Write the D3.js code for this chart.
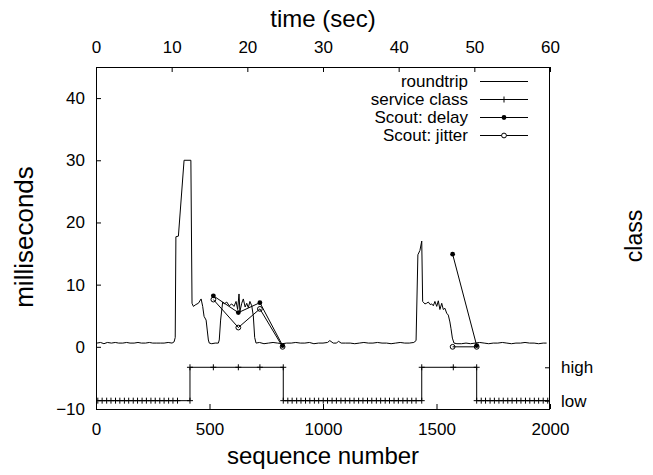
<!DOCTYPE html>
<html>
<head>
<meta charset="utf-8">
<script src="https://cdn.jsdelivr.net/npm/d3@7"></script>
<style>
  html, body { margin: 0; padding: 0; background: #fff; }
  svg { display: block; }
</style>
</head>
<body>
<svg id="chart" width="653" height="475"></svg>
<script>
// ─── Data ────────────────────────────────────────────────────────────────────

// roundtrip time (ms) against packet sequence number
const roundtripSeq = [
  4, 20, 35, 50, 68, 85, 100, 118, 135, 150, 168, 185, 200, 218, 235, 250, 268, 285, 300, 318, 335, 344,
  349, 352, 363, 388, 418, 423, 429, 440, 451, 463, 470, 476, 485, 490, 495, 499, 510, 525, 539,
  543, 549, 558, 565, 576, 587, 598, 608, 617, 624, 630, 634, 642, 649, 657, 664, 671, 678, 686,
  693, 699, 705, 720, 740, 760, 780, 800, 820, 840, 860, 880, 900, 920, 940, 960, 980, 1000,
  1020, 1030, 1045, 1060, 1068, 1080, 1100, 1120, 1140, 1160, 1180, 1200, 1220, 1240, 1260, 1280,
  1300, 1320, 1340, 1360, 1380, 1400, 1410, 1418, 1427, 1435, 1439, 1449, 1456, 1464, 1472, 1479,
  1486, 1493, 1501, 1508, 1515, 1523, 1530, 1537, 1545, 1552, 1559, 1564, 1570, 1577, 1590, 1610,
  1630, 1650, 1670, 1690, 1710, 1730, 1750, 1770, 1790, 1810, 1830, 1850, 1870, 1890, 1910, 1930,
  1950, 1970, 1985
];
const roundtripMs = [
  0.6, 0.7, 0.5, 0.7, 0.6, 0.7, 0.6, 0.6, 0.7, 0.6, 0.6, 0.7, 0.6, 0.6, 0.7, 0.6, 0.6, 0.6, 0.6, 0.7, 0.6, 0.8,
  1.5, 17.7, 17.8, 30, 30, 7.0, 6.5, 6.8, 7.0, 7.7, 6.5, 4.9, 4.3, 2.7, 1.1, 0.6, 0.5, 0.6, 0.6,
  1.1, 4.3, 7.2, 6.9, 7.2, 6.6, 6.9, 6.5, 7.3, 6.0, 8.5, 5.7, 7.0, 7.7, 6.4, 7.0, 6.3, 7.3, 6.6,
  5.0, 1.5, 0.6, 0.7, 0.5, 0.6, 0.7, 0.6, 0.5, 0.6, 0.6, 0.7, 0.6, 0.6, 0.7, 0.5, 0.6, 0.6,
  0.7, 1.0, 0.6, 0.6, 0.9, 0.6, 0.6, 0.6, 0.5, 0.6, 0.7, 0.6, 0.6, 0.7, 0.6, 0.6,
  0.5, 0.6, 0.7, 0.6, 0.6, 0.7, 1.0, 14.8, 15.5, 17.0, 7.3, 6.9, 7.0, 7.2, 6.8, 6.9,
  6.6, 7.3, 6.5, 7.4, 6.0, 7.0, 6.0, 6.2, 5.4, 5.1, 4.0, 2.9, 1.4, 0.6, 0.5, 0.5,
  0.6, 0.5, 0.6, 0.7, 0.6, 0.5, 0.6, 0.6, 0.7, 0.6, 0.5, 0.6, 0.6, 0.7, 0.6, 0.6,
  0.5, 0.6, 0.6
];

// service class samples (0 = low, 1 = high), drawn as steps
const classLowSeqA  = [8, 27, 47, 66, 86, 105, 125, 144, 164, 183, 203, 222, 242, 261, 281, 300, 320, 339, 359, 414];
const classHighSeqA = [414, 517, 627, 722, 825];
const classLowSeqB  = [825, 845, 864, 884, 903, 923, 942, 962, 981, 1001, 1020, 1040, 1059, 1079, 1098, 1118,
                       1137, 1157, 1176, 1196, 1215, 1235, 1254, 1274, 1293, 1313, 1332, 1352, 1371, 1391, 1410, 1435];
const classHighSeqB = [1435, 1574, 1677];
const classLowSeqC  = [1677, 1697, 1716, 1736, 1755, 1775, 1794, 1814, 1833, 1853, 1872, 1892, 1911, 1931, 1950, 1970, 1990];
const classTicks    = [0, 1];
const classLabels   = ['low', 'high'];

// Scout probe measurements, two separate runs
const scoutSeqA    = [517, 627, 722, 822];
const scoutDelayA  = [8.2, 5.5, 7.1, 0.2];
const scoutJitterA = [7.6, 3.1, 6.1, 0.0];
const scoutSeqB    = [1571, 1677];
const scoutDelayB  = [14.9, 0.2];
const scoutJitterB = [0.0, 0.0];

const seqTicks  = [0, 500, 1000, 1500, 2000];
const timeTicks = [0, 10, 20, 30, 40, 50, 60];
const msTicks   = [-10, 0, 10, 20, 30, 40];

const legendNames = ['roundtrip', 'service class', 'Scout: delay', 'Scout: jitter'];

// ─── Layout ──────────────────────────────────────────────────────────────────

const FONT = '"Liberation Sans", Arial, Helvetica, sans-serif';
const L = 96, R = 550, T = 67, B = 409;

const svg = d3.select('#chart');

const x     = d3.scaleLinear().domain([0, 2000]).range([L, R]);
const xTime = d3.scaleLinear().domain([0, 60]).range([L, R]);
const y     = d3.scaleLinear().domain([-10, 45]).range([B, T]);
const y2    = d3.scaleLinear().domain([-0.25, 10]).range([B, T]);

const zip = (xs, ys) => xs.map((s, i) => ({ seq: s, v: ys[i] }));
const plain = d3.format('d');

svg.append('defs').append('clipPath').attr('id', 'plot-clip')
  .append('rect').attr('x', L).attr('y', T).attr('width', R - L).attr('height', B - T);

// ─── Axes ────────────────────────────────────────────────────────────────────

function styleAxis(sel) {
  sel.select('.domain').remove();
  sel.selectAll('line').attr('stroke', '#000');
  sel.selectAll('text').attr('fill', '#000');
  sel.attr('font-family', FONT).attr('font-size', 17);
}

svg.append('g')
  .attr('transform', `translate(${L},0)`)
  .call(d3.axisLeft(y).tickValues(msTicks).tickSize(-5).tickPadding(11).tickFormat(plain))
  .call(styleAxis);

svg.append('g')
  .attr('transform', `translate(0,${B})`)
  .call(d3.axisBottom(x).tickValues(seqTicks).tickSize(-5).tickPadding(14).tickFormat(plain))
  .call(styleAxis);

svg.append('g')
  .attr('transform', `translate(0,${T})`)
  .call(d3.axisTop(xTime).tickValues(timeTicks).tickSize(-5).tickPadding(14).tickFormat(plain))
  .call(styleAxis);

svg.append('g')
  .attr('transform', `translate(${R},0)`)
  .call(d3.axisRight(y2).tickValues(classTicks).tickSize(-5).tickPadding(11)
    .tickFormat((d, i) => classLabels[i]))
  .call(styleAxis);

svg.append('rect')
  .attr('x', L + 0.5).attr('y', T + 0.5)
  .attr('width', R - L - 1).attr('height', B - T)
  .attr('fill', 'none').attr('stroke', '#000');

// axis titles
const title = (txt, tx, ty, size, rot) => svg.append('text')
  .attr('transform', `translate(${tx},${ty})${rot ? ' rotate(-90)' : ''}`)
  .attr('text-anchor', 'middle')
  .attr('font-family', FONT).attr('font-size', size)
  .attr('fill', '#000')
  .text(txt);

title('time (sec)', 323, 27, 24, false);
title('sequence number', 323, 464, 24, false);
title('milliseconds', 33, 237, 26, true);
title('class', 642, 236, 23, true);

// ─── Series ──────────────────────────────────────────────────────────────────

const plot = svg.append('g').attr('clip-path', 'url(#plot-clip)');

const lineMs = d3.line().x(d => x(d.seq)).y(d => y(d.v));
const stepClass = d3.line().x(d => x(d.seq)).y(d => y2(d.v)).curve(d3.curveStepAfter);

plot.append('path')
  .datum(zip(roundtripSeq, roundtripMs))
  .attr('d', lineMs)
  .attr('fill', 'none').attr('stroke', '#000').attr('stroke-width', 1);

const classData = [
  ...classLowSeqA.map(s => ({ seq: s, v: 0 })),
  ...classHighSeqA.map(s => ({ seq: s, v: 1 })),
  ...classLowSeqB.map(s => ({ seq: s, v: 0 })),
  ...classHighSeqB.map(s => ({ seq: s, v: 1 })),
  ...classLowSeqC.map(s => ({ seq: s, v: 0 })),
];

plot.append('path')
  .datum(classData)
  .attr('d', stepClass)
  .attr('fill', 'none').attr('stroke', '#000').attr('stroke-width', 1);

const PLUS = 'M-3,0H3M0,-3V3';

plot.selectAll('.class-pt')
  .data(classData)
  .join('path')
  .attr('class', 'class-pt')
  .attr('transform', d => `translate(${x(d.seq)},${y2(d.v)})`)
  .attr('d', PLUS)
  .attr('stroke', '#000').attr('stroke-width', 1);

const scoutRuns = [
  { delay: zip(scoutSeqA, scoutDelayA), jitter: zip(scoutSeqA, scoutJitterA) },
  { delay: zip(scoutSeqB, scoutDelayB), jitter: zip(scoutSeqB, scoutJitterB) },
];

scoutRuns.forEach(run => {
  plot.append('path').datum(run.delay).attr('d', lineMs)
    .attr('fill', 'none').attr('stroke', '#000').attr('stroke-width', 1);
  plot.append('path').datum(run.jitter).attr('d', lineMs)
    .attr('fill', 'none').attr('stroke', '#000').attr('stroke-width', 1);

  plot.selectAll(null).data(run.delay).join('circle')
    .attr('cx', d => x(d.seq)).attr('cy', d => y(d.v)).attr('r', 2.4)
    .attr('fill', '#000');
  plot.selectAll(null).data(run.jitter).join('circle')
    .attr('cx', d => x(d.seq)).attr('cy', d => y(d.v)).attr('r', 2.4)
    .attr('fill', 'none').attr('stroke', '#000').attr('stroke-width', 1);
});

// ─── Legend ──────────────────────────────────────────────────────────────────

const legend = svg.append('g').attr('font-family', FONT).attr('font-size', 17);
const rowY = i => 81.5 + i * 18;

legendNames.forEach((name, i) => {
  const yy = rowY(i);
  legend.append('text')
    .attr('x', 468).attr('y', yy).attr('dy', '0.35em')
    .attr('text-anchor', 'end').attr('fill', '#000')
    .text(name);
  legend.append('line')
    .attr('x1', 480).attr('x2', 528).attr('y1', yy).attr('y2', yy)
    .attr('stroke', '#000');
  if (i === 1) {
    legend.append('path').attr('transform', `translate(504,${yy})`)
      .attr('d', PLUS).attr('stroke', '#000');
  } else if (i === 2) {
    legend.append('circle').attr('cx', 504).attr('cy', yy).attr('r', 2.4).attr('fill', '#000');
  } else if (i === 3) {
    legend.append('circle').attr('cx', 504).attr('cy', yy).attr('r', 2.4)
      .attr('fill', '#fff').attr('stroke', '#000');
  }
});
</script>
</body>
</html>
